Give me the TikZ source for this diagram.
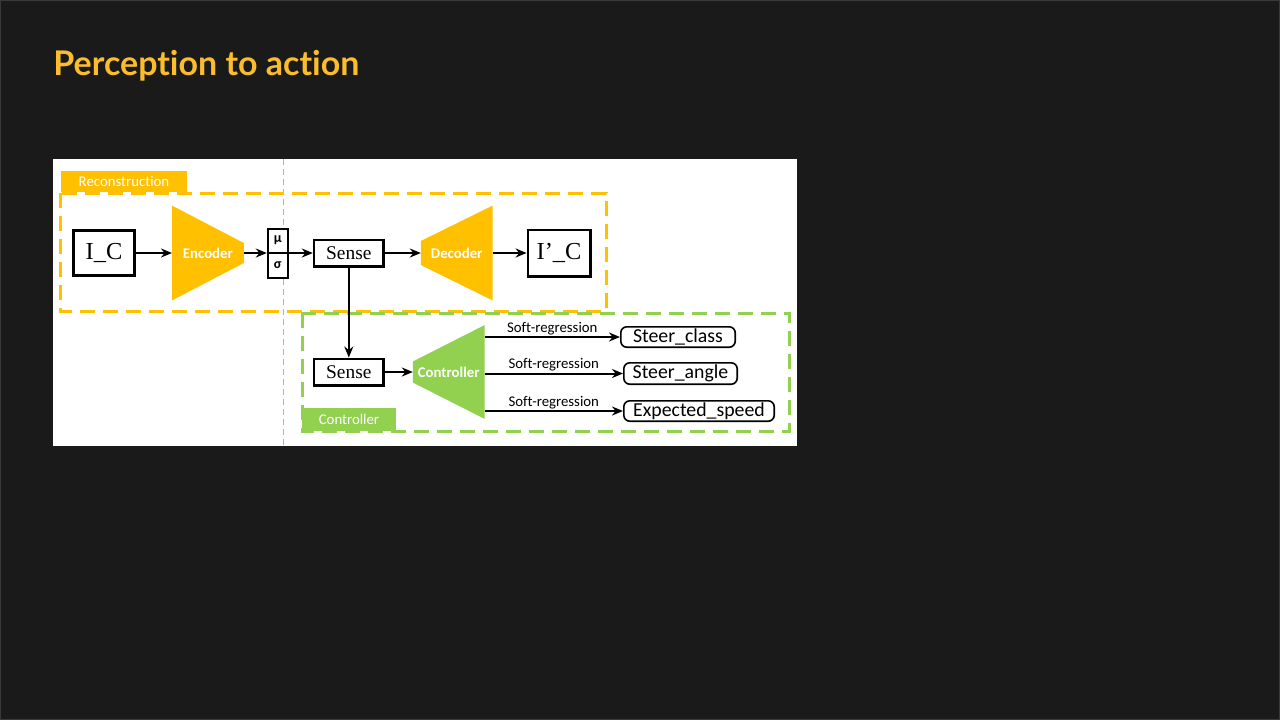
\documentclass[tikz,border=0pt]{standalone}
\usepackage{fontspec}
\setmainfont{Liberation Serif}
\setsansfont[Ligatures=NoCommon]{Carlito}
\newfontfamily\titlefont[Ligatures=NoCommon]{Lato}
\usetikzlibrary{arrows.meta, positioning}
\definecolor{slide}{HTML}{1A1A1A}
\definecolor{titlecol}{HTML}{FBBC2E}
\definecolor{recon}{HTML}{FFC000}
\definecolor{ctrl}{HTML}{92D050}
\pgfdeclarelayer{panel}
\pgfdeclarelayer{shade}
\pgfsetlayers{panel,shade,main}
\tikzset{
  blk/.style={rectangle, draw=black, line width=1.3pt, fill=white, inner sep=0pt, font=\fontsize{12.2}{13}\selectfont},
  sns/.style={blk, line width=1.2pt, minimum width=34.8pt, minimum height=13.3pt, font=\fontsize{9.7}{11}\selectfont},
  trap/.style={rectangle, inner sep=0pt, text=white, font=\sffamily\bfseries\fontsize{7.4}{8}\selectfont},
  outb/.style={rectangle, rounded corners=3pt, draw=black, line width=0.8pt, fill=white, inner sep=0pt, font=\sffamily\fontsize{9.9}{11}\selectfont},
  tag/.style={rectangle, inner sep=0pt, text=white, font=\sffamily\fontsize{7.4}{8}\selectfont},
  grp/.style={line width=1.5pt, dash pattern=on 7.5pt off 4pt},
  lbl/.style={font=\sffamily\fontsize{7.4}{8}\selectfont, inner sep=0.6pt},
  arr/.style={-{Stealth[length=5.5pt, width=4.5pt]}, line width=1pt, black},
}
\begin{document}
\begin{tikzpicture}[x=0.5pt, y=-0.5pt]
\begin{pgfonlayer}{panel}
\fill[slide] (0,0) rectangle (1280,720);
\draw[gray!45!black, line width=0.5pt] (0.5,0.5) rectangle (1279.5,719.5);
\fill[white] (53,159) rectangle (797,446);
\draw[gray!60, line width=0.5pt, dash pattern=on 3pt off 2pt] (283,159) -- (283,446);
\end{pgfonlayer}
\useasboundingbox (0,0) rectangle (1280,720);

\node[anchor=base west, text=titlecol, font=\titlefont\bfseries\fontsize{17}{20}\selectfont, inner sep=0pt] (ttl) at (53,75) {Perception to action};

% reconstruction branch
\node[blk, minimum width=30.7pt, minimum height=22.7pt] (ic) at (104,253) {I\_C};
\node[trap, minimum width=35.5pt, minimum height=47pt, right=18pt of ic] (enc) {Encoder};
\node[blk, line width=1pt, minimum width=10pt, minimum height=24.5pt, right=11.5pt of enc] (ms) {};
\node[sns, right=12pt of ms] (sense) {Sense};
\node[trap, minimum width=35.5pt, minimum height=47pt, right=18pt of sense] (dec) {Decoder};
\node[blk, minimum width=31.2pt, minimum height=23.2pt, right=17pt of dec] (icp) {I’\_C};
\draw[line width=1pt] (ms.west) -- (ms.east);
\node[font=\sffamily\bfseries\fontsize{7}{8}\selectfont, inner sep=0pt] (mu) at ([yshift=6.3pt]ms.center) {μ};
\node[font=\sffamily\bfseries\fontsize{7}{8}\selectfont, inner sep=0pt] (sig) at ([yshift=-6.3pt]ms.center) {σ};

% controller branch
\node[sns, below=45pt of sense] (sense2) {Sense};
\node[trap, minimum width=35.5pt, minimum height=46.5pt, right=14pt of sense2] (ctl) {Controller};
\node[outb, minimum width=57.2pt, minimum height=10.2pt] (scls) at (678,337) {Steer\_class};
\node[outb, minimum width=56.7pt, minimum height=10.7pt] (sang) at (680.5,373.5) {Steer\_angle};
\node[outb, minimum width=75.2pt, minimum height=10.2pt] (spd) at (699,411) {Expected\_speed};

\begin{pgfonlayer}{shade}
\fill[recon] (enc.north west) -- ([yshift=5pt]enc.east) -- ([yshift=-5pt]enc.east) -- (enc.south west) -- cycle;
\fill[recon] (dec.north east) -- (dec.south east) -- ([yshift=-6pt]dec.west) -- ([yshift=6pt]dec.west) -- cycle;
\fill[ctrl] ([yshift=5.25pt]ctl.west) -- (ctl.north east) -- (ctl.south east) -- ([yshift=-5.25pt]ctl.west) -- cycle;
\draw[recon, grp] (60,193) rectangle (606,311);
\draw[ctrl, grp] (302,313) rectangle (789,431);
\end{pgfonlayer}

\node[tag, fill=recon, minimum width=63pt, minimum height=10.5pt] (rtag) at (124,181.5) {Reconstruction};
\node[tag, fill=ctrl, minimum width=47pt, minimum height=11.5pt] (ctag) at (349,419.5) {Controller};

\draw[arr](ic)--(enc);\draw[arr](enc)--(ms);\draw[arr](ms)--(sense);\draw[arr](sense)--(dec);\draw[arr](dec)--(icp);
\draw[arr](sense)--(sense2);\draw[arr](sense2)--(ctl);
\draw[arr] (ctl.east |- scls) -- node[lbl, above] (sr1) {Soft-regression} (scls);
\draw[arr] (ctl.east |- sang) -- node[lbl, above] (sr2) {Soft-regression} (sang);
\draw[arr] (ctl.east |- spd) -- node[lbl, above] (sr3) {Soft-regression} (spd);
\end{tikzpicture}
\end{document}
